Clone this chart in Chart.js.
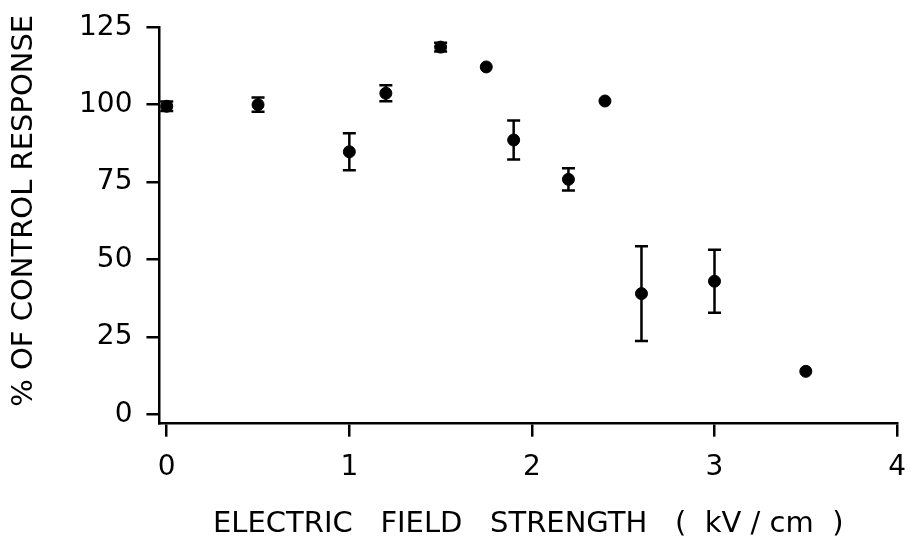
<!DOCTYPE html>
<html>
<head>
<meta charset="utf-8">
<script src="https://cdn.jsdelivr.net/npm/chart.js@4"></script>
<style>
  html, body { margin: 0; padding: 0; background: #fff; }
  #wrap { width: 911px; height: 543px; }
</style>
</head>
<body>
<div id="wrap"><canvas id="fieldChart" width="911" height="543"></canvas></div>
<script>
// field strength (kV/cm), response (% of control), error half-width
const fieldStrength = [0, 0.5, 1.0, 1.2, 1.5, 1.75, 1.9, 2.2, 2.4, 2.6, 3.0, 3.5];
const responsePct   = [99.5, 100, 84.8, 103.7, 118.6, 112.2, 88.6, 75.9, 101.2, 39, 43, 13.9];
const errorPct      = [1.5, 2.3, 6, 2.6, 1.4, 0, 6.3, 3.6, 0, 15.3, 10.2, 0];
const xTickValues = [0, 1, 2, 3, 4];
const yTickValues = [0, 25, 50, 75, 100, 125];
const yAxisTitle = '% OF CONTROL RESPONSE';

const points = fieldStrength.map((x, i) => ({ x: x, y: responsePct[i], err: errorPct[i] }));
const font = 'DejaVu Sans';

// draws vertical error bars with caps, using the chart's scales
const errorBars = {
  id: 'errorBars',
  beforeDatasetsDraw(chart) {
    const ctx = chart.ctx;
    const xs = chart.scales.x, ys = chart.scales.y;
    ctx.save();
    ctx.strokeStyle = '#000';
    ctx.lineWidth = 2.5;
    points.forEach(p => {
      if (!p.err) return;
      const px = xs.getPixelForValue(p.x);
      const top = ys.getPixelForValue(p.y + p.err);
      const bot = ys.getPixelForValue(p.y - p.err);
      ctx.beginPath();
      ctx.moveTo(px, top); ctx.lineTo(px, bot);
      ctx.moveTo(px - 6.5, top); ctx.lineTo(px + 6.5, top);
      ctx.moveTo(px - 6.5, bot); ctx.lineTo(px + 6.5, bot);
      ctx.stroke();
    });
    ctx.restore();
  }
};

// y title sits a little above the axis centre in the original, so draw it by hand
const yTitle = {
  id: 'yTitle',
  afterDraw(chart) {
    const ctx = chart.ctx;
    const ys = chart.scales.y;
    const cy = (ys.getPixelForValue(125) + ys.getPixelForValue(0)) / 2 - 10;
    ctx.save();
    ctx.translate(24, cy);
    ctx.rotate(-Math.PI / 2);
    ctx.font = '29px "' + font + '"';
    ctx.fillStyle = '#000';
    ctx.textAlign = 'center';
    ctx.textBaseline = 'middle';
    ctx.fillText(yAxisTitle, 0, 0);
    ctx.restore();
  }
};

const ctx = document.getElementById('fieldChart').getContext('2d');
new Chart(ctx, {
  type: 'scatter',
  data: {
    datasets: [{
      data: points,
      backgroundColor: '#000',
      borderColor: '#000',
      pointRadius: 6,
      pointHoverRadius: 6
    }]
  },
  options: {
    responsive: false,
    animation: false,
    layout: { padding: { top: 10, right: 0, left: 65, bottom: 0 } },
    plugins: { legend: { display: false }, tooltip: { enabled: false } },
    scales: {
      x: {
        type: 'linear',
        min: -0.04,
        max: 4,
        afterBuildTicks: axis => { axis.ticks = xTickValues.map(v => ({ value: v })); },
        grid: { drawOnChartArea: false, color: '#000', lineWidth: 2.5, tickLength: 13 },
        border: { color: '#000', width: 2.5 },
        ticks: { color: '#000', font: { family: font, size: 28, lineHeight: 1.84 }, padding: 5, maxRotation: 0 },
        title: {
          display: true,
          text: 'ELECTRIC   FIELD   STRENGTH   (  kV / cm  )',
          color: '#000',
          font: { family: font, size: 29 },
          padding: { top: 9, bottom: 1 }
        }
      },
      y: {
        type: 'linear',
        min: -3,
        max: 125,
        afterBuildTicks: axis => { axis.ticks = yTickValues.map(v => ({ value: v })); },
        grid: { drawOnChartArea: false, color: '#000', lineWidth: 2.5, tickLength: 13 },
        border: { color: '#000', width: 2.5 },
        ticks: { color: '#000', font: { family: font, size: 28, lineHeight: 0.95 }, padding: 14 }
      }
    }
  },
  plugins: [errorBars, yTitle]
});
</script>
</body>
</html>
